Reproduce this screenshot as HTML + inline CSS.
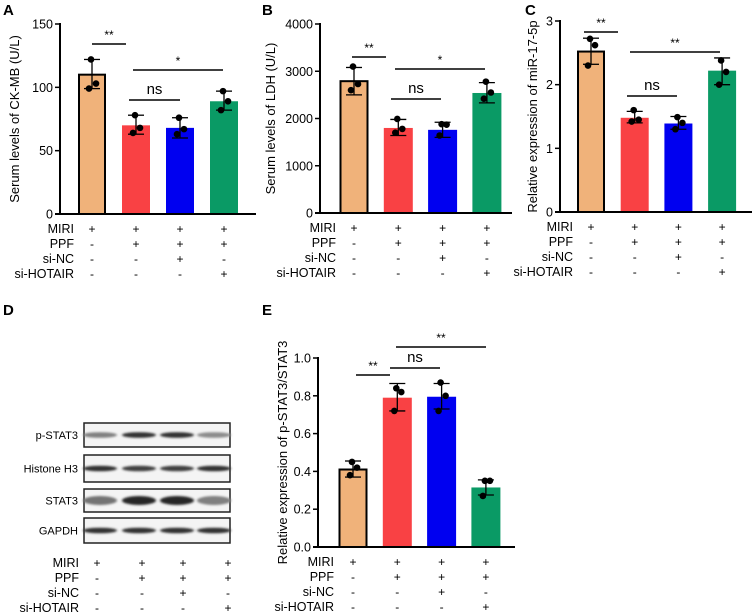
<!DOCTYPE html>
<html><head><meta charset="utf-8"><style>
html,body{margin:0;padding:0;background:#fff}
svg{display:block;font-family:"Liberation Sans",Arial,sans-serif}
</style></head><body>
<svg id="fig" width="753" height="613" viewBox="0 0 753 613" xmlns="http://www.w3.org/2000/svg">
<defs>
<filter id="blur1" x="-20%" y="-100%" width="140%" height="300%"><feGaussianBlur stdDeviation="1.3 1.1"/></filter>
</defs>
</svg>
<script>
// ---- data ----
const groupColors = ["#F0B27A","#F94144","#0000F0","#0A9A65"];
const rowLabels = ["MIRI","PPF","si-NC","si-HOTAIR"];
const rowSigns = [["+","+","+","+"],["-","+","+","+"],["-","-","+","-"],["-","-","-","+"]];

const aMeans = [110, 70, 68, 89];
const aPoints = [[122,103,99],[78,68,64],[76,67,63],[97,89,82]];
const aErr = [[99,122],[63,78],[60,76],[82,97]];
const aTicks = [0,50,100,150];

const bMeans = [2790, 1800, 1760, 2540];
const bPoints = [[3100,2730,2600],[1990,1780,1700],[1880,1870,1640],[2780,2550,2420]];
const bErr = [[2500,3080],[1640,1980],[1600,1920],[2330,2760]];
const bTicks = [0,1000,2000,3000,4000];

const cMeans = [2.52, 1.48, 1.39, 2.22];
const cPoints = [[2.72,2.62,2.3],[1.6,1.45,1.42],[1.49,1.4,1.3],[2.38,2.2,2.0]];
const cErr = [[2.32,2.73],[1.4,1.58],[1.3,1.5],[2.0,2.42]];
const cTicks = [0,1,2,3];

const eMeans = [0.41, 0.79, 0.795, 0.315];
const ePoints = [[0.45,0.42,0.38],[0.84,0.82,0.72],[0.87,0.8,0.72],[0.35,0.35,0.27]];
const eErr = [[0.37,0.455],[0.72,0.865],[0.73,0.865],[0.275,0.355]];
const eTicks = [0,0.2,0.4,0.6,0.8,1.0];

const blotNames = ["p-STAT3","Histone  H3","STAT3","GAPDH"];
const blotIntensity = [[0.5,0.8,0.8,0.45],[0.8,0.75,0.75,0.8],[0.55,0.85,0.85,0.5],[0.8,0.8,0.8,0.8]];

// ---- drawing ----
const NS="http://www.w3.org/2000/svg";
const svg=document.getElementById('fig');
function mk(tag,attrs,parent){const e=document.createElementNS(NS,tag);for(const k in attrs)e.setAttribute(k,attrs[k]);(parent||svg).appendChild(e);return e;}
function txt(s,attrs,parent){const e=mk('text',attrs,parent);e.textContent=s;return e;}

function panel(cfg){
  const g=mk('g',{});
  
  
  const y=v=>cfg.y0-(v-cfg.min)/(cfg.max-cfg.min)*(cfg.y0-cfg.y1);
  const cx=i=>cfg.x0+i*cfg.step;
  const lt=txt(cfg.letter,{x:cfg.lx,y:cfg.ly,'font-size':15,'font-weight':'bold'},g);
  
  
  cfg.means.forEach((m,i)=>{
    const orange=i===0;
    const r=mk('rect',{x:cx(i)-cfg.bw/2+(orange?1:0),y:y(m),width:cfg.bw-(orange?2:0),height:cfg.y0-y(m),fill:groupColors[i],stroke:orange?'#000':'none','stroke-width':2},g);
    
    
    const e=cfg.err[i];
    mk('line',{x1:cx(i),x2:cx(i),y1:y(e[0]),y2:y(e[1]),stroke:'#000','stroke-width':1.3},g);
    mk('line',{x1:cx(i)-8,x2:cx(i)+8,y1:y(e[0]),y2:y(e[0]),stroke:'#000','stroke-width':1.3},g);
    mk('line',{x1:cx(i)-8,x2:cx(i)+8,y1:y(e[1]),y2:y(e[1]),stroke:'#000','stroke-width':1.3},g);
    const offs=[-1,4,-3];
    cfg.points[i].forEach((p,j)=>{
      const c=mk('circle',{cx:cx(i)+offs[j],cy:y(p),r:3.3,fill:'#000'},g);
      
      
    });
  });
  mk('line',{x1:cfg.ax,x2:cfg.ax,y1:cfg.y1-1,y2:cfg.y0,stroke:'#000','stroke-width':2},g);
  const xa=mk('line',{x1:cfg.ax-5,x2:cfg.axEnd,y1:cfg.y0,y2:cfg.y0,stroke:'#000','stroke-width':2},g);
  
  
  cfg.ticks.forEach(t=>{
    mk('line',{x1:cfg.ax-5,x2:cfg.ax,y1:y(t),y2:y(t),stroke:'#000','stroke-width':1.5},g);
    const tl=txt(cfg.tickFmt(t),{x:cfg.ax-7,y:y(t)+4.5,'font-size':12.5,'text-anchor':'end'},g);
    
    
  });
  const midY=(cfg.y0+cfg.y1)/2;
  const yt=txt(cfg.title,{x:0,y:0,'font-size':13,'text-anchor':'middle',transform:`translate(${cfg.tx},${midY}) rotate(-90)`},g);
  
  
  cfg.sig.forEach(s=>{
    mk('line',{x1:s[0],x2:s[1],y1:s[2],y2:s[2],stroke:'#000','stroke-width':1.5},g);
    const st=txt(s[3],{x:(s[0]+s[1])/2,y:s[3]==='ns'?s[2]-6:s[2]-5,'font-size':s[3]==='ns'?15:12,'text-anchor':'middle'},g);
    
    
  });
  table(g,cfg.tabX,cfg.tabY,cx);
}
function table(g,lx,ty,cx){
  rowLabels.forEach((lab,r)=>{
    const t=txt(lab,{x:lx,y:ty+r*15,'font-size':12.5,'text-anchor':'end'},g);
    
    
    rowSigns[r].forEach((s,i)=>{
      txt(s,{x:cx(i),y:ty+r*15,'font-size':12,'text-anchor':'middle'},g);
    });
  });
}

panel({name:'panel-a-ckmb',letter:'A',lx:3,ly:15,min:0,max:150,y0:214,y1:24,x0:92,step:44,bw:28,ax:60,axEnd:256,
  means:aMeans,points:aPoints,err:aErr,ticks:aTicks,tickFmt:t=>String(t),title:'Serum levels of CK-MB (U/L)',tx:19,
  sig:[[92,126,44,'**'],[133,223,70,'*'],[129,180,100,'ns']],tabX:74,tabY:233});
panel({name:'panel-b-ldh',letter:'B',lx:262,ly:15,min:0,max:4000,y0:213,y1:24,x0:354,step:44.3,bw:29,ax:320,axEnd:512,
  means:bMeans,points:bPoints,err:bErr,ticks:bTicks,tickFmt:t=>String(t),title:'Serum levels of LDH (U/L)',tx:275,
  sig:[[352,386,57,'**'],[395,485,69,'*'],[391,441,99,'ns']],tabX:336,tabY:232});
panel({name:'panel-c-mir17',letter:'C',lx:525,ly:15,min:0,max:3,y0:212,y1:21,x0:591,step:43.7,bw:28,ax:560,axEnd:752,
  means:cMeans,points:cPoints,err:cErr,ticks:cTicks,tickFmt:t=>String(t),title:'Relative expression of miR-17-5p',tx:537,
  sig:[[584,618,32,'**'],[630,720,52,'**'],[627,677,96,'ns']],tabX:573,tabY:231});
panel({name:'panel-e-pstat3',letter:'E',lx:262,ly:315,min:0,max:1,y0:547,y1:358,x0:353,step:44.3,bw:29,ax:318,axEnd:515,
  means:eMeans,points:ePoints,err:eErr,ticks:eTicks,tickFmt:t=>t.toFixed(1),title:'Relative expression of p-STAT3/STAT3',tx:287,
  sig:[[356,390,375,'**'],[390,440,368,'ns'],[396,486,347,'**']],tabX:334,tabY:566});

(function(){
  const g=mk('g',{});
  
  
  const lt=txt('D',{x:3,y:315,'font-size':15,'font-weight':'bold'},g);
  
  
  const boxes=[[423,447],[455,482],[489,512],[518,543]];
  const laneX=[100,139,177,214];
  boxes.forEach((b,k)=>{
    const bx=mk('rect',{x:84,y:b[0],width:146,height:b[1]-b[0],fill:'#f4f4f4',stroke:'#222','stroke-width':1.5},g);
    
    
    const cy=(b[0]+b[1])/2;
    laneX.forEach((lx,i)=>{
      const v=blotIntensity[k][i];
      const g2=Math.round(255*(1-v));
      mk('ellipse',{cx:lx,cy:cy,rx:17,ry:k===2?4.5:2.8,fill:`rgb(${g2},${g2},${g2})`,filter:'url(#blur1)'},g);
    });
    const l=txt(blotNames[k],{x:78,y:cy+4,'font-size':11,'text-anchor':'end','xml:space':'preserve'},g);
    
    
  });
  const dx=[97,142,183,228];
  table(g,79,567,i=>dx[i]);
})();
</script>
</body></html>
